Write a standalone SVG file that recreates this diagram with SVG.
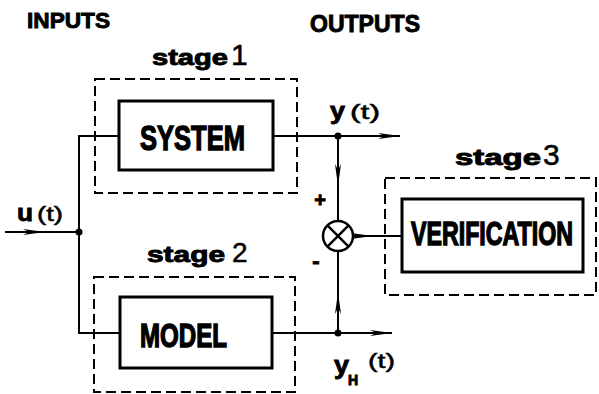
<svg xmlns="http://www.w3.org/2000/svg" width="599" height="394" viewBox="0 0 599 394">
<style>
.t{font-family:"Liberation Sans",Arial,sans-serif;font-weight:bold;fill:#000;stroke:#000;stroke-width:0.9}
.big{stroke-width:1.4}
.r{font-family:"Liberation Sans",Arial,sans-serif;font-weight:normal;fill:#000;stroke:#000;stroke-width:0.5}
.dash{fill:none;stroke:#000;stroke-width:2;stroke-dasharray:10 5}
.blk{fill:#fff;stroke:#000;stroke-width:3}
.ln{fill:none;stroke:#000;stroke-width:2}
</style>
<defs>
<marker id="ah" markerUnits="userSpaceOnUse" markerWidth="24" markerHeight="8" refX="22" refY="4" orient="auto"><path d="M0,1 L22,4 L0,7 L6,4 z" fill="#000"/></marker>
</defs>
<rect width="599" height="394" fill="#fff"/>

<g id="labels">
<text class="t" x="27" y="28" font-size="22" textLength="83" lengthAdjust="spacingAndGlyphs">INPUTS</text>
<text class="t" x="310" y="32" font-size="23" textLength="110" lengthAdjust="spacingAndGlyphs">OUTPUTS</text>
<text class="t" x="17" y="221" font-size="24" textLength="16" lengthAdjust="spacingAndGlyphs">u</text>
<text class="r" x="37" y="221" font-size="20" textLength="26" lengthAdjust="spacingAndGlyphs">(t)</text>
<text class="t" x="330" y="119" font-size="24" textLength="15" lengthAdjust="spacingAndGlyphs">y</text>
<text class="r" x="350" y="119" font-size="20" textLength="30" lengthAdjust="spacingAndGlyphs">(t)</text>
<text class="t" x="334" y="374" font-size="26" textLength="15" lengthAdjust="spacingAndGlyphs">y</text>
<text class="t" x="348" y="385" font-size="14">H</text>
<text class="r" x="368" y="368" font-size="20" textLength="27" lengthAdjust="spacingAndGlyphs">(t)</text>
<text class="t" x="320" y="207" font-size="20" text-anchor="middle">+</text>
<text class="t" x="316" y="268" font-size="22" text-anchor="middle">-</text>
</g>

<g id="stage1">
<rect class="dash" x="95" y="79" width="202" height="114"/>
<text class="t" x="152" y="65" font-size="22" textLength="76" lengthAdjust="spacingAndGlyphs">stage</text>
<text class="r" x="231" y="65" font-size="30">1</text>
</g>
<g id="system">
<rect class="blk" x="119" y="101" width="154" height="69"/>
<text class="t big" x="140" y="150" font-size="35" textLength="105" lengthAdjust="spacingAndGlyphs">SYSTEM</text>
</g>

<g id="stage2">
<rect class="dash" x="94" y="277" width="201" height="115"/>
<text class="t" x="147" y="262" font-size="22" textLength="78" lengthAdjust="spacingAndGlyphs">stage</text>
<text class="r" x="232" y="262" font-size="28">2</text>
</g>
<g id="model">
<rect class="blk" x="120" y="297" width="152" height="71"/>
<text class="t big" x="140" y="347" font-size="33" textLength="87" lengthAdjust="spacingAndGlyphs">MODEL</text>
</g>

<g id="stage3">
<rect class="dash" x="385" y="178" width="211" height="117"/>
<text class="t" x="455" y="165" font-size="22" textLength="86" lengthAdjust="spacingAndGlyphs">stage</text>
<text class="r" x="543" y="165" font-size="30">3</text>
</g>
<g id="verification">
<rect class="blk" x="402" y="199" width="181" height="73"/>
<text class="t big" x="411" y="245" font-size="33" textLength="162" lengthAdjust="spacingAndGlyphs">VERIFICATION</text>
</g>

<g id="comparator">
<circle cx="338" cy="236" r="15" fill="#fff" stroke="#000" stroke-width="2.5"/>
<path d="M327.4,225.4 L348.6,246.6 M348.6,225.4 L327.4,246.6" stroke="#000" stroke-width="2.5"/>
</g>

<g id="connectors">
<path class="ln" d="M5,232 L45,232" marker-end="url(#ah)"/>
<path class="ln" d="M45,232 L79,232"/>
<path class="ln" d="M119,136 L79,136 L79,333 L120,333"/>
<path class="ln" d="M273,136 L400,136" marker-end="url(#ah)"/>
<path class="ln" d="M338,136 L338,186" marker-end="url(#ah)"/>
<path class="ln" d="M338,186 L338,221"/>
<path class="ln" d="M272,333 L392,333" marker-end="url(#ah)"/>
<path class="ln" d="M338,333 L338,292" marker-end="url(#ah)"/>
<path class="ln" d="M338,292 L338,251"/>
<path class="ln" d="M353,236 L373,236" marker-end="url(#ah)"/>
<path class="ln" d="M373,236 L402,236"/>
<circle cx="79" cy="232" r="3.5"/>
<circle cx="338" cy="136" r="3.5"/>
<circle cx="338" cy="333" r="3.5"/>
</g>
</svg>
